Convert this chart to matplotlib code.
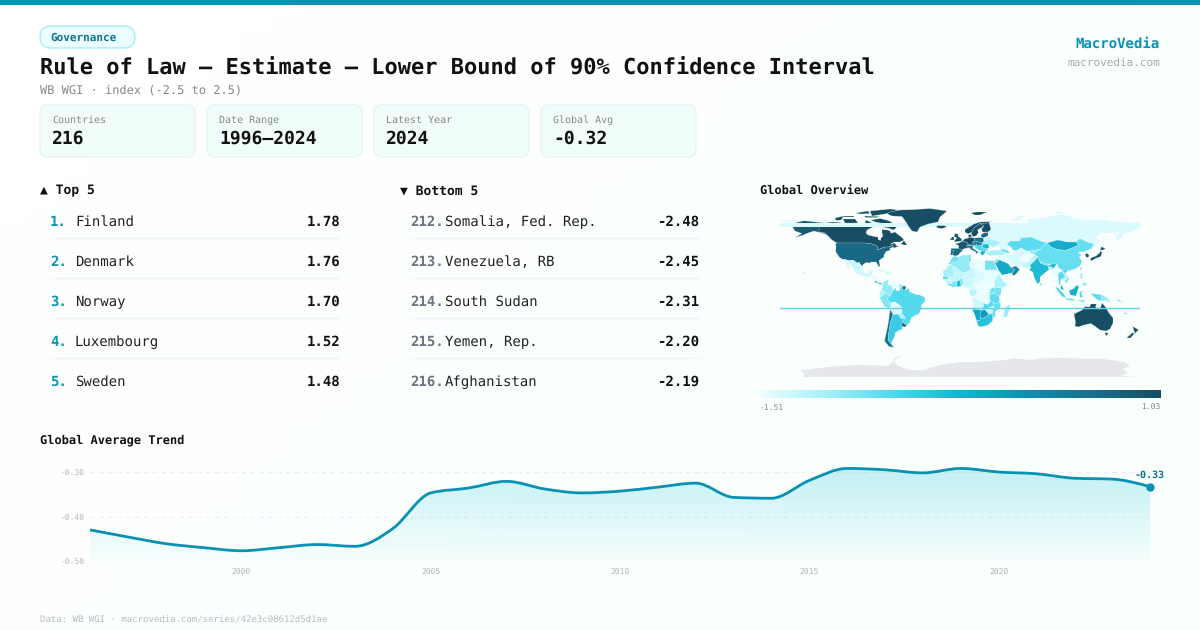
import numpy as np
import matplotlib
matplotlib.use("Agg")
import matplotlib.pyplot as plt
from matplotlib.colors import LinearSegmentedColormap
from matplotlib.patches import FancyBboxPatch, PathPatch, Polygon
from matplotlib.path import Path
from matplotlib.transforms import ScaledTranslation

plt.rcParams["font.family"] = ["DejaVu Sans Mono", "DejaVu Sans"]
plt.rcParams["text.hinting"] = "none"
plt.rcParams["text.hinting_factor"] = 1

# ---- data
stat_labels = ["Countries", "Date Range", "Latest Year", "Global Avg"]
stat_values = ["216", "1996–2024", "2024", "-0.32"]

top_ranks = ["1.", "2.", "3.", "4.", "5."]
top_names = ["Finland", "Denmark", "Norway", "Luxembourg", "Sweden"]
top_values = ["1.78", "1.76", "1.70", "1.52", "1.48"]

bottom_ranks = ["212.", "213.", "214.", "215.", "216."]
bottom_names = ["Somalia, Fed. Rep.", "Venezuela, RB", "South Sudan", "Yemen, Rep.", "Afghanistan"]
bottom_values = ["-2.48", "-2.45", "-2.31", "-2.20", "-2.19"]

years = np.arange(1996, 2025)
global_avg = [-0.430, -0.446, -0.461, -0.470, -0.477, -0.470, -0.463, -0.467, -0.427, -0.347,
              -0.336, -0.321, -0.338, -0.347, -0.343, -0.334, -0.325, -0.357, -0.359, -0.319,
              -0.292, -0.295, -0.302, -0.292, -0.300, -0.304, -0.314, -0.316, -0.333]
trend_ticks = [2000, 2005, 2010, 2015, 2020]
trend_yticks = [-0.50, -0.40, -0.30]

scale_min, scale_max = -1.51, 1.03

# rough country outlines (lon, lat) with the value each one is shaded by
shapes = [
    ("Canada", 1.03, [(-141,69.6),(-135,69),(-128,70),(-120,69.5),(-115,68),(-108,68),(-100,68),(-95,69),(-94,72),(-88,69),(-82,69),(-81,67),(-87,65),(-93,62),(-94,59),(-92,57),(-85,55.3),(-82,55),(-82,52.5),(-79.5,51.5),(-79,54),(-77,56),(-78,59),(-78,62.4),(-73,62),(-70,61),(-69,58.8),(-65,60),(-62,57.5),(-58,54.5),(-56,52),(-60,50),(-66,50),(-70,47.5),(-65,49),(-64,46.5),(-61,46),(-66,44),(-67,45),(-67,47),(-71,45),(-75,45),(-79,43.5),(-83,42),(-82.5,45.5),(-84,46.5),(-88,48),(-95,49),(-123,49),(-128,52),(-131,55),(-135,59),(-141,60)]),
    ("Baffin", 1.03, [(-80,73.5),(-72,71.5),(-67,69),(-62,66.5),(-66,62),(-72,64),(-78,65),(-74,68),(-85,70),(-89,72)]),
    ("Victoria", 1.03, [(-117,73),(-105,73),(-102,69),(-115,69)]),
    ("Banks", 1.03, [(-125,74),(-116,76),(-119,72),(-124,71.5)]),
    ("Devon", 1.03, [(-96,76),(-80,75.5),(-84,74.5),(-94,74.5)]),
    ("Melville", 1.03, [(-117,76.5),(-106,76.5),(-106,75),(-116,75)]),
    ("Ellesmere", 1.03, [(-90,81),(-70,83),(-62,82),(-75,78),(-88,76)]),
    ("Axel", 1.03, [(-104,79),(-92,81),(-90,78.5),(-100,78)]),
    ("Newfoundland", 1.03, [(-59,48),(-56,51.5),(-53,47),(-56,47)]),
    ("Alaska", 0.85, [(-168,66),(-162,67),(-166,68.8),(-156,71.3),(-141,69.6),(-141,60),(-135,59),(-131,55),(-135,58),(-146,61),(-152,59),(-158,56.5),(-165,54.5),(-158,58.5),(-165,61)]),
    ("USA", 0.68, [(-124.7,48.4),(-123,49),(-95,49),(-88,48),(-84,46.5),(-82.5,45.5),(-83,42),(-79,43.5),(-75,45),(-71,45),(-67,47),(-67,45),(-70,43.5),(-70,41.7),(-74,40.5),(-76,37),(-76,35),(-81,31.5),(-80,26),(-81,25),(-82.7,28),(-84,30),(-89,30),(-90,29),(-94,29.5),(-97,27.5),(-97.2,26),(-99,26.5),(-101,29.7),(-103,29),(-106.5,31.8),(-111,31.3),(-114.8,32.5),(-117,32.5),(-120.5,34.5),(-122.5,37.5),(-124.3,40.3),(-124,46)]),
    ("Hawaii", 0.68, [(-156,20.2),(-155,19.8),(-155.5,19)]),
    ("Mexico", -1.32, [(-117,32.5),(-114.8,32.5),(-111,31.3),(-106.5,31.8),(-103,29),(-101,29.7),(-99,26.5),(-97.2,26),(-97.8,22),(-96,19),(-94,18.2),(-91,18.7),(-90.5,21),(-87,21.5),(-88,18),(-92,14.5),(-96,16),(-101,17.5),(-105.5,20),(-106,23),(-110,27.5),(-113,31),(-110,24),(-112,25)]),
    ("Guatemala", -1.45, [(-92,14.5),(-88,18),(-88,15.8),(-89.5,14),(-87,13),(-85,11),(-83.5,10),(-83.2,15),(-86,16)]),
    ("Costa Rica", -0.2, [(-85.8,11),(-83.6,11),(-82.6,9.5),(-83.5,8.5)]),
    ("Panama", -0.55, [(-83,9.5),(-80,9.2),(-77.5,8.7),(-78,7.5),(-80.5,7.5)]),
    ("Cuba", -1.3, [(-85,22),(-80,23),(-74.2,20.2),(-77.5,19.9),(-82,22.3)]),
    ("Hispaniola", -1.15, [(-74.3,19.7),(-69,19.5),(-68.5,18.3),(-74.3,18.2)]),
    ("Colombia", -1.0, [(-77.5,8.7),(-75,11),(-71.5,12.4),(-72,7.5),(-67.5,6),(-67,1.5),(-70,-4.2),(-72,-2.4),(-75.3,0),(-79,1.6),(-77.5,5)]),
    ("Venezuela", -1.51, [(-71.5,12.4),(-68,10.6),(-62,10.7),(-60,8.5),(-61,5),(-64,4),(-64,1.5),(-67,1.5),(-67.5,6),(-72,7.5)]),
    ("Guyana", -0.95, [(-60,8.5),(-57.5,6),(-58,2),(-60,1.5),(-61,5)]),
    ("Suriname", 0.7, [(-57.5,6),(-54,5.8),(-54.5,2.3),(-58,2)]),
    ("Ecuador", -1.15, [(-79,1.6),(-75.3,0),(-75.3,-1.5),(-79,-4.8),(-81,-2.2)]),
    ("Peru", -0.9, [(-81,-4.5),(-79,-4.8),(-75.3,-1.5),(-75.3,0),(-72,-2.4),(-70,-4.2),(-73,-7),(-70.5,-9.5),(-69,-12.5),(-69.5,-17.5),(-76,-14),(-79,-8)]),
    ("Brazil", -0.68, [(-60,5),(-60,1.5),(-64,1.5),(-64,4),(-67,1.5),(-70,-4.2),(-73,-7),(-70.5,-9.5),(-69,-11),(-65,-10),(-60,-13.5),(-58,-16.5),(-58,-22),(-54.7,-25.5),(-57.5,-30),(-53.5,-33.7),(-50,-30),(-48.5,-25.5),(-44,-23),(-41,-22),(-39,-17),(-38.5,-13),(-35,-9),(-35,-5.5),(-40,-3),(-44,-2.5),(-50,0),(-51.5,4),(-54,2.3),(-54.5,2.3),(-58,2),(-57.5,4)]),
    ("Bolivia", -1.42, [(-69,-11),(-65,-10),(-60,-13.5),(-58,-16.5),(-58,-20),(-62.5,-22),(-67,-22.8),(-69.5,-17.5),(-69,-12.5)]),
    ("Paraguay", -1.15, [(-62.5,-22),(-58,-20),(-58,-22),(-54.7,-25.5),(-58,-27.3)]),
    ("Chile", 0.62, [(-69.5,-17.5),(-67,-22.8),(-69.5,-30),(-71,-39),(-72,-48),(-68.5,-52.5),(-66,-55.3),(-71,-54.5),(-75.5,-49),(-73.5,-40),(-71.5,-30),(-70.3,-20)]),
    ("Argentina", -0.5, [(-67,-22.8),(-62.5,-22),(-58,-27.3),(-54.7,-25.5),(-57.5,-30),(-58.3,-34),(-57,-36.5),(-62,-39),(-65,-41),(-65.5,-45),(-68.5,-50),(-68.5,-52.5),(-72,-48),(-71,-39),(-69.5,-30)]),
    ("Uruguay", 0.85, [(-58.3,-34),(-57.5,-30),(-53.5,-33.7),(-55,-35)]),
    ("Morocco", -0.8, [(-13,27.7),(-8.7,27.7),(-8.7,29),(-3,30),(-1.2,32),(-2,35),(-6,35.8),(-9.5,32),(-10,29.5)]),
    ("W Sahara", -1.45, [(-17,21.3),(-13,23),(-12,26),(-8.7,27.7),(-13,27.7),(-14.5,26),(-16,23.5)]),
    ("Mauritania", -1.1, [(-17,21.3),(-13,23),(-12,26),(-8.7,27.7),(-5,25),(-6.5,25),(-5.5,15.5),(-12,15),(-16.5,16)]),
    ("Algeria", -1.0, [(-8.7,27.7),(-8.7,29),(-3,30),(-1.2,32),(-2,35),(2,36.8),(8.5,37),(8.3,33),(9.5,30),(10,24.5),(12,23.5),(6,19.5),(3,19),(-5,25)]),
    ("Tunisia", -0.75, [(8.5,37),(11,37),(10.2,34),(11.5,32),(9.5,30),(8.3,33)]),
    ("Libya", -1.48, [(11.5,32),(15,32.3),(20,31),(25,31.5),(25,20),(24,19.5),(15,23),(12,23.5),(10,24.5),(9.5,30)]),
    ("Egypt", -0.85, [(25,31.5),(32,31.3),(34.2,31.3),(37,22),(25,22)]),
    ("Sudan", -1.47, [(25,22),(37,22),(38.5,18),(36.5,14.5),(34,10),(24,9),(22,12),(24,15.5),(24,19.5),(25,20)]),
    ("South Sudan", -1.51, [(24,9),(34,10),(35,5),(31,3.5),(27,5)]),
    ("Chad", -1.38, [(15,23),(24,19.5),(24,15.5),(22,12),(19,9),(15.5,7.5),(13.5,13),(15.5,16.5)]),
    ("Niger", -1.3, [(12,23.5),(15,23),(15.5,16.5),(13.5,13),(3.5,11.8),(1,13.5),(3,15.3),(3,19),(6,19.5)]),
    ("Mali", -1.25, [(-5,25),(3,19),(3,15.3),(1,13.5),(-3,11),(-8,10.5),(-11.5,13),(-12,15),(-5.5,15.5),(-6.5,25)]),
    ("Senegal", -0.7, [(-16.5,16),(-12,15),(-11.5,12.5),(-16.7,12.5),(-17.4,14.7)]),
    ("Guinea", -1.3, [(-16.7,12.5),(-11.5,12.5),(-8,10.5),(-8,8),(-11,8.5),(-13.5,9.5)]),
    ("Sierra Leone", -0.8, [(-13.5,9.5),(-11,8.5),(-8,8),(-8,5),(-11.5,6.8)]),
    ("Ivory Coast", -0.9, [(-8,10.5),(-3,11),(-3,5.2),(-8,4.5)]),
    ("Burkina", -0.85, [(-3,11),(1,13.5),(3.5,11.8),(2,11),(-3,10)]),
    ("Ghana", -0.3, [(-3,11),(0.5,11),(1,6),(-3,5)]),
    ("Togo Benin", -0.95, [(0.5,11),(3.5,11.8),(2.7,6.3),(1,6)]),
    ("Nigeria", -1.3, [(3.5,11.8),(13.5,13),(15,10),(12,6.5),(8.5,4.5),(6,4.3),(2.7,6.3)]),
    ("Cameroon", -1.38, [(13.5,13),(15.5,7.5),(16,2),(9.8,2.3),(8.5,4.5),(12,6.5),(15,10)]),
    ("CAR", -1.5, [(15.5,7.5),(19,9),(22,12),(24,9),(27,5),(19,3.7),(16,2)]),
    ("Gabon Congo", -1.2, [(9.8,2.3),(16,2),(18,3.5),(16,-3),(12,-5),(9,-1)]),
    ("DRC", -1.5, [(18,3.5),(19,3.7),(27,5),(31,3.5),(29.5,-1),(29.5,-6),(30.5,-8.5),(28.5,-12.5),(22,-11),(16,-6),(12,-6),(16,-3)]),
    ("Uganda Rwanda", -0.8, [(31,3.5),(35,5),(34,0),(30,-3),(29.5,-1)]),
    ("Kenya", -0.85, [(35,5),(41.5,4),(41,-1.7),(39.3,-4.7),(34,-1),(34,0)]),
    ("Ethiopia", -1.15, [(36.5,14.5),(38.5,18),(43,12),(43,11),(48,8),(45,5),(41.5,4),(35,5),(34,10)]),
    ("Somalia", -1.51, [(43,11),(51,12),(49,6),(41.5,-1.7),(41,-1.7),(41.5,4),(45,5),(48,8)]),
    ("Tanzania", -0.72, [(30,-3),(34,-1),(39.3,-4.7),(39.5,-10.5),(34.5,-11.5),(30.5,-8.5),(29.5,-6)]),
    ("Angola", -1.32, [(12,-6),(16,-6),(22,-11),(24,-13),(22,-18),(12,-17.3),(13.5,-12)]),
    ("Zambia", -0.68, [(22,-11),(28.5,-12.5),(30.5,-8.5),(33.5,-11),(33,-14),(28,-16),(25,-17.8),(22,-18),(24,-13)]),
    ("Malawi Moz", -0.75, [(33.5,-11),(34.5,-11.5),(40.5,-10.5),(40.5,-15),(35,-20),(35.5,-24),(32.8,-26),(32,-22),(33,-17),(35,-16),(33,-14)]),
    ("Zimbabwe", -1.25, [(25,-17.8),(28,-16),(33,-17),(32,-22),(29,-22.2)]),
    ("Namibia", -0.1, [(12,-17.3),(22,-18),(25,-17.8),(21,-18.5),(20,-28.5),(16.5,-28.5),(14.5,-22)]),
    ("Botswana", 0.05, [(21,-18.5),(25,-17.8),(29,-22.2),(26,-25),(22,-26.5),(20,-25)]),
    ("South Africa", -0.38, [(16.5,-28.5),(20,-28.5),(20,-25),(22,-26.5),(26,-25),(29,-22.2),(32,-22),(32.8,-26),(32.5,-29),(28,-33),(25,-34),(20,-34.8),(18.3,-34)]),
    ("Madagascar", -1.05, [(49.3,-12),(50.4,-16),(47,-25),(44,-25),(43.5,-21),(44.5,-16.5)]),
    ("Russia", -1.4, [(28,70),(40,67.5),(44,68.5),(55,68.5),(68,69),(68,73),(75,72.5),(80,73.5),(90,75.5),(104,77.7),(113,74),(130,71.5),(140,72.5),(160,70),(170,70),(180,69),(180,65),(177,62.5),(170,60),(163,58),(162,55),(156.7,51),(155.5,57),(163,62),(155,59),(142,59),(135,54.5),(140,52),(133,43),(131,43),(134,48),(127,50),(120,53.5),(116,50),(107,50),(98,52),(87,49),(80,51),(71,55),(61,54),(60,51),(50,51),(47,48),(49,46),(47,42),(40,43.5),(38,47),(40,50),(32,52.5),(28,56),(28,60),(31,62.5),(29,69.5)]),
    ("Wrap band", -1.4, [(-180,65.3),(180,65.3),(180,69.3),(-180,69.3)]),
    ("Wrap sliver", -1.45, [(-180,71),(-125,71),(-125,72.5),(-180,72.5)]),
    ("Novaya", -1.42, [(52,71),(57,71),(68,77),(60,76.5)]),
    ("Severnaya", -1.42, [(92,79),(100,81),(105,78.5),(98,78)]),
    ("Siberia Isl", -1.42, [(138,75),(150,76),(145,74)]),
    ("Greenland", 1.03, [(-73,78.2),(-68,76),(-58,75.5),(-54,70),(-51,65),(-48,61),(-43,60),(-40,65),(-32,68),(-22,70),(-20,75),(-13,81),(-30,83.5),(-45,82.5),(-60,82),(-70,80)]),
    ("Iceland", 1.03, [(-24,65.5),(-22,66.4),(-15,66.3),(-13.5,65),(-18,63.4),(-22,64)]),
    ("Svalbard", 1.03, [(11,79),(16,80),(27,80),(20,77),(15,77)]),
    ("Norway", 1.03, [(5,60),(5,62.5),(14,68),(20,70),(31,70.5),(28,69),(20,68.5),(14,64),(12,60),(8,58)]),
    ("Sweden", 1.03, [(12,60),(14,64),(20,68.5),(24,66),(17.5,62),(18.5,59.5),(16,56),(13,55.5),(11,58.5)]),
    ("Finland", 1.03, [(20,68.5),(28,69),(29,69.5),(31,62.5),(28,60),(22.5,60),(21.5,63),(24,66)]),
    ("Baltics", 0.72, [(21,57),(24,59.3),(28,59.5),(28,56),(23,54),(21,55.5)]),
    ("UK", 0.95, [(-5.5,50),(1.5,51),(1.7,53),(-2,56),(-2,58),(-5,58.5),(-6,55.5),(-3,54),(-5,52)]),
    ("Ireland", 1.0, [(-10,52),(-6,52),(-6,55),(-8.5,55)]),
    ("Portugal", 0.72, [(-9.5,37),(-7.3,37),(-6.5,42),(-9,42)]),
    ("Spain", 0.68, [(-9,42),(-6.5,42),(-7.3,37),(-5,36),(-2,36.8),(0,39),(3,42),(-2,43.5),(-9,43.7)]),
    ("France", 0.9, [(-4.7,48.3),(-1,49),(2.5,51),(8,49),(7.5,44),(3,43),(3,42),(-2,43.5),(-1,46)]),
    ("Benelux Ger", 1.03, [(2.5,51),(4.5,53),(8.5,54),(9,55),(14,54),(15,51),(12.5,50),(13.5,48),(8,47.5),(8,49)]),
    ("Denmark", 1.03, [(8,57),(10.5,57.5),(12.5,55.7),(9,54.8)]),
    ("Switz Aust", 1.03, [(6,46.3),(8,47.5),(13.5,48),(17,48),(16,46.5),(10,46.5)]),
    ("Italy", 0.45, [(7,44),(7,46),(13.5,46.5),(12.5,44),(18.5,40),(16,38),(15.7,40),(11,42.5),(9,44.3)]),
    ("Poland", 0.55, [(14,54),(19,54.5),(23.5,54),(24,50.5),(22.5,49),(15,51)]),
    ("Czech Hung", 0.35, [(12.5,50),(15,51),(22.5,49),(22.5,47.5),(18,46),(16,46.5),(17,48),(13.5,48)]),
    ("Belarus", -1.3, [(23.5,54),(28,56),(32,52.5),(24,51.5)]),
    ("Ukraine", -1.1, [(24,51.5),(32,52.5),(40,50),(38,47),(33,45),(30,46),(28,48),(22.5,47.8),(22.5,49)]),
    ("Romania", -0.3, [(22.5,47.8),(28,48),(29.5,45),(28,43.7),(22.5,44)]),
    ("Balkans", -0.65, [(13.5,46.5),(18,46),(22.5,47.5),(22.5,44),(28,43.7),(28,42),(26,41),(22,41),(19.5,41.5),(16,43.5)]),
    ("Greece", -0.25, [(20,39.5),(22,41),(26,41),(24,38),(23,36.5),(21.5,37)]),
    ("Turkey", -1.1, [(26,40),(29,41.2),(35,42),(41.5,41.5),(44.7,39.5),(44.5,37),(36,36.7),(30,36.3),(27.5,37)]),
    ("Caucasus", -0.8, [(40,43.5),(47,42),(50,40),(48.5,38.5),(44.7,39.5),(41.5,41.5)]),
    ("Kazakhstan", -0.72, [(47,48),(50,51),(60,51),(61,54),(71,55),(80,51),(87,49),(82,45),(80,42.5),(70,41),(66,41),(61,44),(56,41),(53,42),(51,45),(49,46)]),
    ("Uzbek Turkmen", -1.4, [(53,42),(56,41),(61,44),(66,41),(70,41),(71,39),(66,37.3),(61,35.5),(54,37.5)]),
    ("Kyrg Taj", -1.0, [(70,41),(80,42.5),(74,39),(74.5,37.5),(68,37),(71,39)]),
    ("Mongolia", -0.15, [(87,49),(98,52),(107,50),(116,50),(119,47),(111,43.5),(105,41.5),(96,42.7),(91,45)]),
    ("China", -0.78, [(74,39),(80,42.5),(82,45),(87,49),(91,45),(96,42.7),(105,41.5),(111,43.5),(119,47),(116,50),(120,53.5),(127,50),(134,48),(131,43),(124,40),(121,40.5),(118,39),(122,37),(119,35),(122,31),(120,26),(114,22.5),(109,21.5),(106,22),(102,22),(98,24.5),(97,28),(92,28),(85,28),(79,31),(78,35),(74.5,37.5)]),
    ("North Korea", -1.48, [(124,40),(131,43),(129,40.5),(128,38.5),(125,38)]),
    ("South Korea", 0.95, [(125,38),(128,38.5),(129.3,36),(128,34.8),(126.3,34.5)]),
    ("Japan", 0.95, [(130,33),(132,34.5),(136,36),(140,39.5),(140.5,41.5),(142,39.5),(140.8,35.5),(136,33.7),(131.5,31.2)]),
    ("Hokkaido", 0.95, [(140,42),(141.5,45.3),(145.5,43.5),(143,42)]),
    ("Sakhalin", -1.4, [(142,54),(143.5,53),(143.5,46.5),(142,47)]),
    ("Taiwan", 0.62, [(120.2,23),(121.5,25.2),(121,22)]),
    ("Syria Iraq", -1.47, [(36,36.7),(44.5,37),(46,35),(48.5,30),(46.5,29),(39,32.3),(35.8,33)]),
    ("Levant", -0.85, [(35,29.6),(35.8,33),(39,32.3),(37,29.5)]),
    ("Iran", -1.38, [(44.5,37),(44.7,39.5),(48.5,38.5),(50,37),(54,37.5),(61,35.5),(61,31),(63,27),(61.5,25),(57,26),(52,27.5),(48.5,30),(46,35)]),
    ("Afghanistan", -1.51, [(61,35.5),(66,37.3),(71,38.5),(74.5,37.5),(71,34),(69,31),(66,29.5),(61,29.5),(61,31)]),
    ("Pakistan", -1.25, [(61,29.5),(66,29.5),(69,31),(71,34),(74.5,37.5),(78,35),(74.5,31),(70,27),(71,24.2),(67,24.5),(61.5,25),(63,27)]),
    ("Saudi", -0.12, [(34.9,29.4),(37,29.5),(39,32.3),(46.5,29),(48.5,28),(51,24.5),(55,22.5),(52,19),(43,17),(42.5,16.5),(39,21),(36.5,26)]),
    ("Yemen", -1.5, [(42.5,16.5),(43,17),(52,19),(53,16.5),(45,12.7),(43.3,12.7)]),
    ("Oman UAE", 0.3, [(51,24.5),(56,26),(59.8,22.5),(55,17),(53,16.5),(52,19),(55,22.5)]),
    ("India", -0.3, [(74.5,31),(78,35),(79,31),(81,28.5),(88,26.5),(92,28),(97,28),(94,24),(91.5,23),(89,22),(87,21),(80.2,15),(80,10),(77.5,8),(74,15),(72.8,20),(69,22),(71,24.2),(70,27)]),
    ("Nepal", -0.85, [(81,30),(88,27.7),(88,26.5),(81,28.5)]),
    ("Bangladesh", -1.25, [(88,26),(92,25),(92,21.5),(89,22)]),
    ("Sri Lanka", -0.45, [(80,9.5),(81.8,7.5),(80.7,6)]),
    ("Myanmar", -1.47, [(92,21.5),(94,24),(97,28),(98,24.5),(101,21),(98,18),(98.5,11),(97.5,16),(94.5,16.5)]),
    ("Thailand", -0.7, [(98,18),(101,21),(104,18),(105.5,14.5),(101,12.7),(100,9),(102,6),(99,8),(98.5,11)]),
    ("Laos Cambodia", -1.2, [(101,21),(102,22),(107,16),(107.5,12),(105,10.5),(102.5,12),(105.5,14.5),(104,18)]),
    ("Vietnam", -0.6, [(102,22),(106,23),(108,21.5),(105.5,19),(109,13),(106.5,9),(105,10.5),(107.5,12),(107,16)]),
    ("Malay Pen", -0.2, [(100.5,6.5),(102,6),(104,2),(101,3)]),
    ("Sumatra", -0.62, [(95.3,5.6),(98,4),(104,-2),(106,-5.8),(102,-4.5),(97,2)]),
    ("Java", -0.62, [(105.5,-6.5),(111,-6.5),(114.5,-7.8),(114.5,-8.7),(106,-7.5)]),
    ("Borneo", -0.2, [(109,1.5),(113,3),(117,7),(119,5),(117.5,1),(116,-4),(110.5,-3)]),
    ("Sulawesi", -0.62, [(119.5,0),(125,1.5),(121,-1),(123,-5),(120,-5.5)]),
    ("Lesser Sunda", -0.65, [(116,-8.5),(125,-8.3),(124,-10),(118,-9)]),
    ("Philippines N", -0.9, [(120.5,18.5),(122.3,18.3),(122,15),(124,13),(120.5,13.8)]),
    ("Philippines S", -0.9, [(122,8),(125.5,9.8),(126.5,7),(124,6)]),
    ("New Guinea W", -0.7, [(131,-1),(136,-2.2),(141,-2.6),(141,-9),(138,-8),(133,-4)]),
    ("PNG", -1.0, [(141,-2.6),(145,-4.5),(148,-6.5),(150.5,-10.5),(146,-8.5),(143,-9),(141,-9)]),
    ("Solomons", -0.75, [(156,-7),(160,-8.5),(162,-10.5),(158,-9)]),
    ("New Caledonia", -0.15, [(164,-20),(167,-22),(165,-22)]),
    ("Australia", 1.03, [(114,-22),(122,-18),(125,-14.5),(129.5,-15),(131,-12),(136.5,-12),(135.5,-15),(140,-17.5),(142,-11),(145.5,-15),(149,-21),(153,-26),(153,-31),(150,-37),(146,-39),(140,-38),(136,-35),(131,-31.5),(124,-33),(118,-35),(115,-34),(115.5,-30)]),
    ("Tasmania", 1.03, [(144.7,-40.8),(148.3,-40.8),(147,-43.5),(146,-43.5)]),
    ("NZ N", 1.03, [(172.7,-34.5),(178.5,-37.7),(175,-41.5),(174,-39)]),
    ("NZ S", 1.03, [(172.7,-40.5),(174.3,-41.7),(170.5,-46),(166.5,-46)]),
]

antarctica = [(-180,-85),(-158,-85),(-155,-82),(-160,-78.5),(-145,-76.5),(-120,-74),(-100,-73),(-85,-73.5),(-72,-74),(-62,-66),(-57,-63.5),(-62,-64.5),(-67,-68),(-62,-74),(-50,-78),(-36,-78),(-28,-75),(-15,-72),(0,-70),(20,-70),(40,-68.5),(55,-66.5),(70,-68),(80,-66.5),(100,-66),(120,-66.5),(140,-66.5),(165,-70),(170,-74),(163,-77),(168,-81),(160,-84),(180,-85)]

# colour ramp sampled from the scale bar
ramp = ["#ecfeff", "#a5f0fa", "#4fd9ee", "#16b4d2", "#0e8fb0", "#1a6f8c", "#164e63"]
cmap = LinearSegmentedColormap.from_list("macro", ramp)

fig = plt.figure(figsize=(12, 6.3), dpi=100)


def px_axes(x0, y0, x1, y1):
    # axes placed by pixel box, y measured from the top
    return fig.add_axes([x0 / 1200, 1 - y1 / 630, (x1 - x0) / 1200, (y1 - y0) / 630])


# page + all the text blocks live in one pixel-sized axes
page = px_axes(0, 0, 1200, 630)
page.axis("off")

start, end = np.array([255, 255, 255]) / 255, np.array([248, 255, 253]) / 255
gx, gy = np.meshgrid(np.linspace(0, 1, 40), np.linspace(0, 1, 40))
mix = (0.6 * gx + 0.4 * gy)[..., None]
bg = start * (1 - mix) + end * mix
page.imshow(bg, extent=(0, 1200, 630, 0), aspect="auto", zorder=0)
page.set_xlim(0, 1200)
page.set_ylim(630, 0)

page.fill_between([0, 1200], 0, 5, color="#0891b2", lw=0, zorder=1)


def box(x0, y0, x1, y1, radius, face, edge, lw=1):
    page.add_patch(FancyBboxPatch((x0, y0), x1 - x0, y1 - y0,
                                  boxstyle=f"round,pad=0,rounding_size={radius}",
                                  fc=face, ec=edge, lw=lw, zorder=2))


def label(x, y, s, px, color="#111111", bold=False, ha="left"):
    # y is the visual middle of the line, converted to a baseline so rows stay level
    page.text(x, y + px * 0.36, s, fontsize=px * 0.72, color=color, ha=ha, va="baseline",
              fontweight="bold" if bold else "normal", zorder=5)


box(40, 26, 135, 48, 11, "#ecfeff", "#a5eef8")
label(50, 36.8, "Governance", 11, "#0e7490", bold=True)
label(40, 66.5, "Rule of Law — Estimate — Lower Bound of 90% Confidence Interval", 22, "#111111", bold=True)
label(40, 89.5, "WB WGI · index (-2.5 to 2.5)", 12, "#888888")
label(1160, 43, "MacroVedia", 14, "#0891b2", bold=True, ha="right")
label(1160, 62, "macrovedia.com", 11, "#aaaaaa", ha="right")

for i in range(len(stat_labels)):
    x = 40 + i * 167
    box(x, 105, x + 155, 157, 8, "#f0fdfa", "#e6f4f4")
    label(x + 12, 119, stat_labels[i], 10, "#888888")
    label(x + 12, 136.8, stat_values[i], 18, "#111111", bold=True)

label(40, 189.5, "▲ Top 5", 13, "#111111", bold=True)
label(400, 189.5, "▼ Bottom 5", 13, "#111111", bold=True)
label(760, 189.5, "Global Overview", 12, "#111111", bold=True)
label(40, 439.5, "Global Average Trend", 12, "#111111", bold=True)

for i in range(5):
    y = 220.8 + i * 40
    label(50, y, top_ranks[i], 14, "#0891b2", bold=True)
    label(75, y, top_names[i], 14, "#222222")
    label(340, y, top_values[i], 14, "#111111", bold=True, ha="right")
    label(410, y, bottom_ranks[i], 14, "#6b7280", bold=True)
    label(445, y, bottom_names[i], 14, "#222222")
    label(700, y, bottom_values[i], 14, "#111111", bold=True, ha="right")
    if i < 4:
        page.plot([50, 340], [y + 17.2, y + 17.2], color="#f1f4f4", lw=1, zorder=2)
        page.plot([410, 700], [y + 17.2, y + 17.2], color="#f1f4f4", lw=1, zorder=2)

label(40, 619, "Data: WB WGI · macrovedia.com/series/42e3c08612d5d1ae", 9, "#bbbbbb")

# ---- map, plain lon/lat
mp = px_axes(780, 202, 1140, 382)
mp.set_xlim(-180, 180)
mp.set_ylim(-90, 90)
mp.axis("off")
mp.add_patch(Polygon(antarctica, closed=True, fc="#e5e7eb", ec="none"))
for name, value, coords in shapes:
    shade = cmap((value - scale_min) / (scale_max - scale_min))
    edge = "none" if name.startswith("Wrap") else (1, 1, 1, 0.45)
    mp.add_patch(Polygon(coords, closed=True, fc=shade, ec=edge, lw=0.3))
# ring crossing the antimeridian smears into one line across the map
mp.axhline(-16, color="#5fd3e6", lw=1)

bar = px_axes(760, 390, 1161, 398)
bar.imshow(np.linspace(0, 1, 256)[None, :], cmap=cmap, aspect="auto")
bar.axis("off")
label(760, 407.5, f"{scale_min:.2f}", 8, "#888888")
label(1160, 407.5, f"{scale_max:.2f}", 8, "#888888", ha="right")

# ---- trend
ax = px_axes(90, 462, 1150, 561)
ax.patch.set_alpha(0)
for side in ax.spines.values():
    side.set_visible(False)
ax.set_xticks(trend_ticks)
ax.set_yticks(trend_yticks)
ax.set_yticklabels([f"{v:.2f}" for v in trend_yticks])
ax.tick_params(length=0, labelsize=5.76, labelcolor="#b5b5b5", pad=4)
ax.tick_params(axis="x", pad=5.5)
ax.grid(axis="y", color="#eeeeee", lw=0.8, ls=(0, (4, 4)))
ax.set_axisbelow(True)
for t in ax.get_yticklabels():
    t.set_transform(t.get_transform() + ScaledTranslation(0, -1 / 100, fig.dpi_scale_trans))

# monotone cubic through the yearly values, flat at local peaks and dips
vals = np.array(global_avg)
secant = np.diff(vals)
slopes = np.zeros(len(vals))
for i in range(1, len(vals) - 1):
    s0, s1 = secant[i - 1], secant[i]
    slopes[i] = (np.sign(s0) + np.sign(s1)) * min(abs(s0), abs(s1), 0.25 * abs(s0 + s1))
slopes[0] = (3 * secant[0] - slopes[1]) / 2
slopes[-1] = (3 * secant[-1] - slopes[-2]) / 2
verts = [(years[0], vals[0])]
codes = [Path.MOVETO]
for i in range(len(years) - 1):
    verts += [(years[i] + 1 / 3, vals[i] + slopes[i] / 3),
              (years[i + 1] - 1 / 3, vals[i + 1] - slopes[i + 1] / 3),
              (years[i + 1], vals[i + 1])]
    codes += [Path.CURVE4] * 3
curve = Path(verts, codes)
area = Path(verts + [(years[-1], -0.5), (years[0], -0.5), (years[0], vals[0])],
            codes + [Path.LINETO, Path.LINETO, Path.LINETO])

grad = np.zeros((64, 2, 4))
grad[..., :3] = matplotlib.colors.to_rgb("#22c3dc")
grad[..., 3] = np.linspace(0.25, 0.02, 64)[:, None]
img = ax.imshow(grad, extent=(1996, 2024, -0.5, -0.29), aspect="auto", origin="upper", zorder=1)
img.set_clip_path(PathPatch(area, transform=ax.transData))
ax.set_xlim(1996, 2024)
ax.set_ylim(-0.50, -0.50 + 99 / 445)
ax.add_patch(PathPatch(curve, fc="none", ec="#0891b2", lw=2.0, zorder=3, clip_on=False))
ax.plot(years[-1], vals[-1], "o", color="#0891b2", ms=5, zorder=4, clip_on=False)
ax.annotate(f"{vals[-1]:.2f}", (years[-1], vals[-1]), xytext=(0, 4.5), textcoords="offset points",
            ha="center", va="bottom", fontsize=7.2, fontweight="bold", color="#0e7490",
            annotation_clip=False)

fig.savefig("out.png", dpi=100)
